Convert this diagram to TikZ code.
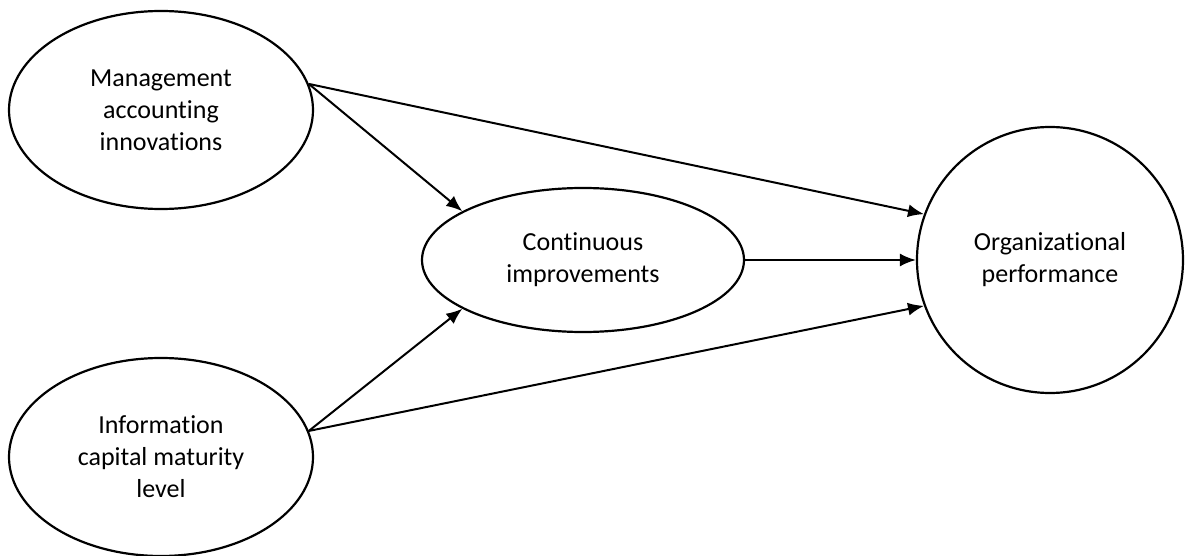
\documentclass[tikz,border=0pt]{standalone}
\usepackage{fontspec}
\setmainfont{Carlito}[Ligatures=NoCommon]
\usepackage{tikz}
\usetikzlibrary{arrows.meta,shapes.geometric}
\tikzset{>=latex}
\tikzstyle{construct}=[ellipse,draw,line width=1.1pt,inner sep=0,align=center,font=\fontsize{13}{16}\selectfont]
\tikzstyle{driver}=[construct,minimum width=152pt,minimum height=99pt]
\tikzstyle{mediator}=[construct,minimum width=161pt,minimum height=72pt]
\tikzstyle{outcome}=[construct,circle,minimum size=133pt]
\tikzstyle{flow}=[-{Latex[length=8pt,width=6.5pt]},line width=1pt]

\begin{document}
\begin{tikzpicture}[x=0.5pt,y=-0.5pt]
  \useasboundingbox (0,0) rectangle (1185,556);

  % antecedents
  \node[driver] (mai) at (161,110) {Management\\accounting\\innovations};
  \node[driver] (icm) at (161,457) {Information\\capital maturity\\level};
  % mediator and outcome
  \node[mediator] (ci) at (583,260) {Continuous\\improvements};
  \node[outcome] (op) at (1050,260) {Organizational\\performance};

  \draw[flow] (mai.10) -- (ci.158);
  \draw[flow] (mai.10) -- (op.160);
  \draw[flow] (icm.10) -- (ci.202);
  \draw[flow] (icm.10) -- (op.200);
  \draw[flow] (ci.east) -- (op.west);
\end{tikzpicture}
\end{document}
